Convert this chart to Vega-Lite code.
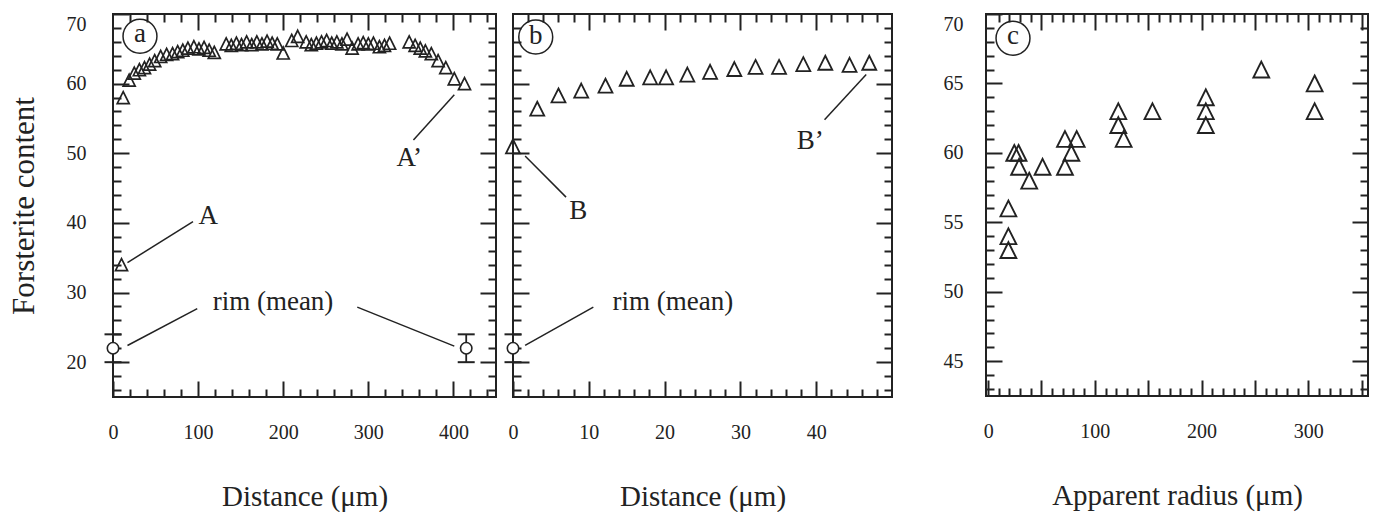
{
  "$schema": "https://vega.github.io/schema/vega-lite/v6.json",
  "padding": {"left": 7, "top": 12, "right": 5, "bottom": 0},
  "datasets": {
    "triA": [
      {"d":10,"fo":34},{"d":12,"fo":58},{"d":19,"fo":60.5},{"d":25,"fo":61.5},{"d":31,"fo":62},{"d":37,"fo":62.3},{"d":43,"fo":62.8},{"d":49,"fo":63.3},{"d":56,"fo":63.9},{"d":63,"fo":64.2},{"d":70,"fo":64.3},{"d":76,"fo":64.6},{"d":82,"fo":64.8},{"d":88,"fo":65.1},{"d":95,"fo":65.3},{"d":101,"fo":65},{"d":107,"fo":65.2},{"d":113,"fo":64.8},{"d":119,"fo":64.5},{"d":133,"fo":65.7},{"d":139,"fo":65.5},{"d":145,"fo":65.8},{"d":151,"fo":65.6},{"d":157,"fo":66},{"d":163,"fo":65.6},{"d":169,"fo":66},{"d":175,"fo":65.7},{"d":181,"fo":66.1},{"d":187,"fo":65.8},{"d":193,"fo":65.7},{"d":200,"fo":64.4},{"d":210,"fo":66.2},{"d":217,"fo":66.8},{"d":227,"fo":66},{"d":233,"fo":65.6},{"d":239,"fo":65.8},{"d":245,"fo":66},{"d":251,"fo":66.2},{"d":257,"fo":65.8},{"d":263,"fo":66},{"d":269,"fo":65.7},{"d":275,"fo":66.4},{"d":281,"fo":65.1},{"d":288,"fo":65.7},{"d":294,"fo":65.9},{"d":300,"fo":65.7},{"d":306,"fo":65.8},{"d":313,"fo":65.3},{"d":319,"fo":65.5},{"d":325,"fo":65.8},{"d":348,"fo":66},{"d":355,"fo":65.5},{"d":361,"fo":65.1},{"d":367,"fo":64.7},{"d":374,"fo":64.3},{"d":382,"fo":63.3},{"d":391,"fo":62.3},{"d":401,"fo":60.7},{"d":413,"fo":60}
    ],
    "rimA": [{"d":0,"m":22,"lo":20,"hi":24},{"d":415,"m":22,"lo":20,"hi":24}],
    "lblA": [{"x":112,"y":41,"t":"A"},{"x":348,"y":49.3,"t":"A’"},{"x":188,"y":28.6,"t":"rim (mean)"}],
    "lnA": [{"x1":17,"y1":34.3,"x2":94,"y2":40.2},{"x1":17,"y1":22.4,"x2":99,"y2":27.7},{"x1":287,"y1":27.9,"x2":401,"y2":22.3},{"x1":353,"y1":51.9,"x2":401,"y2":58.4}],
    "ringA": [{"x":31.7,"y":66.8,"t":"a"}],
    "triB": [
      {"d":0,"fo":51},{"d":3.2,"fo":56.4},{"d":6,"fo":58.3},{"d":9,"fo":59},{"d":12.2,"fo":59.7},{"d":15,"fo":60.7},{"d":18.1,"fo":60.9},{"d":20.2,"fo":60.9},{"d":23,"fo":61.3},{"d":26,"fo":61.7},{"d":29.2,"fo":62.1},{"d":32,"fo":62.4},{"d":35.1,"fo":62.4},{"d":38.3,"fo":62.8},{"d":41.2,"fo":63},{"d":44.4,"fo":62.7},{"d":47,"fo":63}
    ],
    "rimB": [{"d":0,"m":22,"lo":20,"hi":24}],
    "lblB": [{"x":8.6,"y":41.7,"t":"B"},{"x":39.2,"y":51.8,"t":"B’"},{"x":21.1,"y":28.7,"t":"rim (mean)"}],
    "lnB": [{"x1":1.6,"y1":49.6,"x2":7,"y2":43.7},{"x1":41.1,"y1":54.8,"x2":46.6,"y2":61.3},{"x1":1.6,"y1":22.4,"x2":10.6,"y2":27.9}],
    "ringB": [{"x":3.0,"y":66.7,"t":"b"}],
    "triC": [
      {"r":19,"fo":56},{"r":19,"fo":54},{"r":19,"fo":53},{"r":24.5,"fo":60},{"r":28.5,"fo":60},{"r":29,"fo":59},{"r":38.5,"fo":58},{"r":51,"fo":59},{"r":72,"fo":59},{"r":72,"fo":61},{"r":78,"fo":60},{"r":83,"fo":61},{"r":122,"fo":63},{"r":122,"fo":62},{"r":127,"fo":61},{"r":154,"fo":63},{"r":204,"fo":64},{"r":204,"fo":63},{"r":204,"fo":62},{"r":256,"fo":66},{"r":306,"fo":65},{"r":306,"fo":63}
    ],
    "ringC": [{"x":23.3,"y":68.25,"t":"c"}]
  },
  "hconcat": [
    {
      "spacing": 3,
      "hconcat": [
        {
          "width": 383, "height": 383,
          "resolve": {"axis": {"x": "independent", "y": "independent"}},
          "layer": [
            {
              "data": {"name": "triA"},
              "mark": {"type": "point", "shape": "M0,-1L1,1L-1,1Z", "filled": false, "color": "#222", "strokeWidth": 1.7, "size": 145, "opacity": 1},
              "encoding": {
                "x": {"field": "d", "type": "quantitative", "scale": {"domain": [0, 450], "nice": false, "zero": false},
                  "axis": {"orient": "bottom", "offset": -16, "tickSize": 16, "domain": false, "values": [0, 100, 200, 300, 400], "labelPadding": 25, "labelFlush": false, "labelOverlap": false, "title": "Distance (μm)", "titlePadding": 40}},
                "y": {"field": "fo", "type": "quantitative", "scale": {"domain": [15, 70], "nice": false, "zero": false},
                  "axis": {"orient": "left", "offset": -16, "tickSize": 16, "domain": false, "values": [20, 30, 40, 50, 60, 70], "labelPadding": 27, "labelFlush": true, "labelOverlap": false, "title": "Forsterite content", "titleFontSize": 31, "titlePadding": 26}}
              }
            },
            {
              "data": {"name": "rimA"},
              "mark": {"type": "rule", "color": "#222", "strokeWidth": 1.8},
              "encoding": {
                "x": {"field": "d", "type": "quantitative", "scale": {"domain": [0, 450], "nice": false, "zero": false},
                  "axis": {"orient": "bottom", "offset": -8, "tickSize": 8, "values": [20,40,60,80,120,140,160,180,220,240,260,280,320,340,360,380,420,440], "labels": false, "domain": false, "title": null}},
                "y": {"field": "lo", "type": "quantitative", "scale": {"domain": [15, 70], "nice": false, "zero": false},
                  "axis": {"orient": "left", "offset": -8, "tickSize": 8, "values": [16,18,22,24,26,28,32,34,36,38,42,44,46,48,52,54,56,58,62,64,66,68], "labels": false, "domain": false, "title": null}},
                "y2": {"field": "hi"}
              }
            },
            {
              "data": {"name": "rimA"},
              "mark": {"type": "tick", "orient": "horizontal", "size": 17, "thickness": 2, "color": "#222", "opacity": 1},
              "encoding": {
                "x": {"field": "d", "type": "quantitative", "scale": {"domain": [0, 450], "nice": false, "zero": false},
                  "axis": {"orient": "top", "offset": -16, "tickSize": 16, "domain": false, "values": [100, 200, 300, 400], "labels": false, "title": null}},
                "y": {"field": "lo", "type": "quantitative", "scale": {"domain": [15, 70], "nice": false, "zero": false},
                  "axis": {"orient": "right", "offset": -16, "tickSize": 16, "domain": false, "values": [20, 30, 40, 50, 60], "labels": false, "title": null}}
              }
            },
            {
              "data": {"name": "rimA"},
              "mark": {"type": "tick", "orient": "horizontal", "size": 17, "thickness": 2, "color": "#222", "opacity": 1},
              "encoding": {
                "x": {"field": "d", "type": "quantitative", "scale": {"domain": [0, 450], "nice": false, "zero": false},
                  "axis": {"orient": "top", "offset": -8, "tickSize": 8, "values": [20,40,60,80,120,140,160,180,220,240,260,280,320,340,360,380,420,440], "labels": false, "domain": false, "title": null}},
                "y": {"field": "hi", "type": "quantitative", "scale": {"domain": [15, 70], "nice": false, "zero": false},
                  "axis": {"orient": "right", "offset": -8, "tickSize": 8, "values": [16,18,22,24,26,28,32,34,36,38,42,44,46,48,52,54,56,58,62,64,66,68], "labels": false, "domain": false, "title": null}}
              }
            },
            {
              "data": {"name": "rimA"},
              "mark": {"type": "point", "shape": "circle", "filled": true, "fill": "white", "stroke": "#222", "strokeWidth": 1.6, "size": 130, "opacity": 1},
              "encoding": {
                "x": {"field": "d", "type": "quantitative", "scale": {"domain": [0, 450], "nice": false, "zero": false}, "axis": null},
                "y": {"field": "m", "type": "quantitative", "scale": {"domain": [15, 70], "nice": false, "zero": false}, "axis": null}
              }
            },
            {
              "data": {"name": "lnA"},
              "mark": {"type": "rule", "color": "#222", "strokeWidth": 1.5},
              "encoding": {
                "x": {"field": "x1", "type": "quantitative", "scale": {"domain": [0, 450], "nice": false, "zero": false}, "axis": null},
                "y": {"field": "y1", "type": "quantitative", "scale": {"domain": [15, 70], "nice": false, "zero": false}, "axis": null},
                "x2": {"field": "x2"},
                "y2": {"field": "y2"}
              }
            },
            {
              "data": {"name": "lblA"},
              "mark": {"type": "text", "font": "Liberation Serif", "fontSize": 27, "color": "#222"},
              "encoding": {
                "x": {"field": "x", "type": "quantitative", "scale": {"domain": [0, 450], "nice": false, "zero": false}, "axis": null},
                "y": {"field": "y", "type": "quantitative", "scale": {"domain": [15, 70], "nice": false, "zero": false}, "axis": null},
                "text": {"field": "t"}
              }
            },
            {
              "data": {"name": "ringA"},
              "mark": {"type": "point", "shape": "circle", "filled": false, "color": "#222", "strokeWidth": 1.5, "size": 1150, "opacity": 1},
              "encoding": {
                "x": {"field": "x", "type": "quantitative", "scale": {"domain": [0, 450], "nice": false, "zero": false}, "axis": null},
                "y": {"field": "y", "type": "quantitative", "scale": {"domain": [15, 70], "nice": false, "zero": false}, "axis": null}
              }
            },
            {
              "data": {"name": "ringA"},
              "mark": {"type": "text", "font": "Liberation Serif", "fontSize": 27, "color": "#222", "dy": -2},
              "encoding": {
                "x": {"field": "x", "type": "quantitative", "scale": {"domain": [0, 450], "nice": false, "zero": false}, "axis": null},
                "y": {"field": "y", "type": "quantitative", "scale": {"domain": [15, 70], "nice": false, "zero": false}, "axis": null},
                "text": {"field": "t"}
              }
            }
          ]
        },
        {
          "width": 379, "height": 383,
          "resolve": {"axis": {"x": "independent", "y": "independent"}},
          "layer": [
            {
              "data": {"name": "triB"},
              "mark": {"type": "point", "shape": "M0,-1L1,1L-1,1Z", "filled": false, "color": "#222", "strokeWidth": 1.8, "size": 195, "opacity": 1},
              "encoding": {
                "x": {"field": "d", "type": "quantitative", "scale": {"domain": [0, 50], "nice": false, "zero": false},
                  "axis": {"orient": "bottom", "offset": -16, "tickSize": 16, "domain": false, "values": [0, 10, 20, 30, 40], "labelPadding": 25, "labelFlush": false, "labelOverlap": false, "title": "Distance (μm)", "titlePadding": 40}},
                "y": {"field": "fo", "type": "quantitative", "scale": {"domain": [15, 70], "nice": false, "zero": false},
                  "axis": {"orient": "left", "offset": -16, "tickSize": 16, "domain": false, "values": [20, 30, 40, 50, 60], "labels": false, "title": null}}
              }
            },
            {
              "data": {"name": "rimB"},
              "mark": {"type": "rule", "color": "#222", "strokeWidth": 1.8},
              "encoding": {
                "x": {"field": "d", "type": "quantitative", "scale": {"domain": [0, 50], "nice": false, "zero": false},
                  "axis": {"orient": "bottom", "offset": -8, "tickSize": 8, "values": [2,4,6,8,12,14,16,18,22,24,26,28,32,34,36,38,42,44,46,48], "labels": false, "domain": false, "title": null}},
                "y": {"field": "lo", "type": "quantitative", "scale": {"domain": [15, 70], "nice": false, "zero": false},
                  "axis": {"orient": "left", "offset": -8, "tickSize": 8, "values": [16,18,22,24,26,28,32,34,36,38,42,44,46,48,52,54,56,58,62,64,66,68], "labels": false, "domain": false, "title": null}},
                "y2": {"field": "hi"}
              }
            },
            {
              "data": {"name": "rimB"},
              "mark": {"type": "tick", "orient": "horizontal", "size": 17, "thickness": 2, "color": "#222", "opacity": 1},
              "encoding": {
                "x": {"field": "d", "type": "quantitative", "scale": {"domain": [0, 50], "nice": false, "zero": false},
                  "axis": {"orient": "top", "offset": -16, "tickSize": 16, "domain": false, "values": [10, 20, 30, 40], "labels": false, "title": null}},
                "y": {"field": "lo", "type": "quantitative", "scale": {"domain": [15, 70], "nice": false, "zero": false},
                  "axis": {"orient": "right", "offset": -16, "tickSize": 16, "domain": false, "values": [20, 30, 40, 50, 60], "labels": false, "title": null}}
              }
            },
            {
              "data": {"name": "rimB"},
              "mark": {"type": "tick", "orient": "horizontal", "size": 17, "thickness": 2, "color": "#222", "opacity": 1},
              "encoding": {
                "x": {"field": "d", "type": "quantitative", "scale": {"domain": [0, 50], "nice": false, "zero": false},
                  "axis": {"orient": "top", "offset": -8, "tickSize": 8, "values": [2,4,6,8,12,14,16,18,22,24,26,28,32,34,36,38,42,44,46,48], "labels": false, "domain": false, "title": null}},
                "y": {"field": "hi", "type": "quantitative", "scale": {"domain": [15, 70], "nice": false, "zero": false},
                  "axis": {"orient": "right", "offset": -8, "tickSize": 8, "values": [16,18,22,24,26,28,32,34,36,38,42,44,46,48,52,54,56,58,62,64,66,68], "labels": false, "domain": false, "title": null}}
              }
            },
            {
              "data": {"name": "rimB"},
              "mark": {"type": "point", "shape": "circle", "filled": true, "fill": "white", "stroke": "#222", "strokeWidth": 1.6, "size": 130, "opacity": 1},
              "encoding": {
                "x": {"field": "d", "type": "quantitative", "scale": {"domain": [0, 50], "nice": false, "zero": false}, "axis": null},
                "y": {"field": "m", "type": "quantitative", "scale": {"domain": [15, 70], "nice": false, "zero": false}, "axis": null}
              }
            },
            {
              "data": {"name": "lnB"},
              "mark": {"type": "rule", "color": "#222", "strokeWidth": 1.5},
              "encoding": {
                "x": {"field": "x1", "type": "quantitative", "scale": {"domain": [0, 50], "nice": false, "zero": false}, "axis": null},
                "y": {"field": "y1", "type": "quantitative", "scale": {"domain": [15, 70], "nice": false, "zero": false}, "axis": null},
                "x2": {"field": "x2"},
                "y2": {"field": "y2"}
              }
            },
            {
              "data": {"name": "lblB"},
              "mark": {"type": "text", "font": "Liberation Serif", "fontSize": 27, "color": "#222"},
              "encoding": {
                "x": {"field": "x", "type": "quantitative", "scale": {"domain": [0, 50], "nice": false, "zero": false}, "axis": null},
                "y": {"field": "y", "type": "quantitative", "scale": {"domain": [15, 70], "nice": false, "zero": false}, "axis": null},
                "text": {"field": "t"}
              }
            },
            {
              "data": {"name": "ringB"},
              "mark": {"type": "point", "shape": "circle", "filled": false, "color": "#222", "strokeWidth": 1.5, "size": 1150, "opacity": 1},
              "encoding": {
                "x": {"field": "x", "type": "quantitative", "scale": {"domain": [0, 50], "nice": false, "zero": false}, "axis": null},
                "y": {"field": "y", "type": "quantitative", "scale": {"domain": [15, 70], "nice": false, "zero": false}, "axis": null}
              }
            },
            {
              "data": {"name": "ringB"},
              "mark": {"type": "text", "font": "Liberation Serif", "fontSize": 27, "color": "#222", "dy": -1},
              "encoding": {
                "x": {"field": "x", "type": "quantitative", "scale": {"domain": [0, 50], "nice": false, "zero": false}, "axis": null},
                "y": {"field": "y", "type": "quantitative", "scale": {"domain": [15, 70], "nice": false, "zero": false}, "axis": null},
                "text": {"field": "t"}
              }
            }
          ]
        }
      ]
    },
    {
      "width": 382, "height": 382,
      "resolve": {"axis": {"x": "independent", "y": "independent"}},
      "layer": [
        {
          "data": {"name": "triC"},
          "transform": [{"filter": "datum.r < 100"}],
          "mark": {"type": "point", "shape": "M0,-1L1,1L-1,1Z", "filled": false, "color": "#222", "strokeWidth": 1.9, "size": 250, "opacity": 1},
          "encoding": {
            "x": {"field": "r", "type": "quantitative", "scale": {"domain": [-2, 356], "nice": false, "zero": false},
              "axis": {"orient": "bottom", "offset": -16, "tickSize": 16, "domain": false, "values": [0, 50, 100, 150, 200, 250, 300, 350], "labelExpr": "datum.value % 100 === 0 ? datum.label : ''", "labelPadding": 25, "labelFlush": false, "labelOverlap": false, "title": "Apparent radius (μm)", "titlePadding": 40}},
            "y": {"field": "fo", "type": "quantitative", "scale": {"domain": [42.5, 70], "nice": false, "zero": false},
              "axis": {"orient": "left", "offset": -16, "tickSize": 16, "domain": false, "values": [45, 50, 55, 60, 65, 70], "labelPadding": 23, "labelFlush": true, "labelOverlap": false, "title": null}}
          }
        },
        {
          "data": {"name": "triC"},
          "transform": [{"filter": "datum.r >= 100"}],
          "mark": {"type": "point", "shape": "M0,-1L1,1L-1,1Z", "filled": false, "color": "#222", "strokeWidth": 1.9, "size": 250, "opacity": 1},
          "encoding": {
            "x": {"field": "r", "type": "quantitative", "scale": {"domain": [-2, 356], "nice": false, "zero": false},
              "axis": {"orient": "bottom", "offset": -8, "tickSize": 8, "values": [10,20,30,40,60,70,80,90,110,120,130,140,160,170,180,190,210,220,230,240,260,270,280,290,310,320,330,340], "labels": false, "domain": false, "title": null}},
            "y": {"field": "fo", "type": "quantitative", "scale": {"domain": [42.5, 70], "nice": false, "zero": false},
              "axis": {"orient": "left", "offset": -8, "tickSize": 8, "values": [43,44,46,47,48,49,51,52,53,54,56,57,58,59,61,62,63,64,66,67,68,69], "labels": false, "domain": false, "title": null}}
          }
        },
        {
          "data": {"name": "ringC"},
          "mark": {"type": "point", "shape": "circle", "filled": false, "color": "#222", "strokeWidth": 1.5, "size": 1150, "opacity": 1},
          "encoding": {
            "x": {"field": "x", "type": "quantitative", "scale": {"domain": [-2, 356], "nice": false, "zero": false},
              "axis": {"orient": "top", "offset": -16, "tickSize": 16, "domain": false, "values": [50, 100, 150, 200, 250, 300, 350], "labels": false, "title": null}},
            "y": {"field": "y", "type": "quantitative", "scale": {"domain": [42.5, 70], "nice": false, "zero": false},
              "axis": {"orient": "right", "offset": -16, "tickSize": 16, "domain": false, "values": [45, 50, 55, 60, 65], "labels": false, "title": null}}
          }
        },
        {
          "data": {"name": "ringC"},
          "mark": {"type": "text", "font": "Liberation Serif", "fontSize": 27, "color": "#222", "dy": -2},
          "encoding": {
            "x": {"field": "x", "type": "quantitative", "scale": {"domain": [-2, 356], "nice": false, "zero": false},
              "axis": {"orient": "top", "offset": -8, "tickSize": 8, "values": [10,20,30,40,60,70,80,90,110,120,130,140,160,170,180,190,210,220,230,240,260,270,280,290,310,320,330,340], "labels": false, "domain": false, "title": null}},
            "y": {"field": "y", "type": "quantitative", "scale": {"domain": [42.5, 70], "nice": false, "zero": false},
              "axis": {"orient": "right", "offset": -8, "tickSize": 8, "values": [43,44,46,47,48,49,51,52,53,54,56,57,58,59,61,62,63,64,66,67,68,69], "labels": false, "domain": false, "title": null}},
            "text": {"field": "t"}
          }
        }
      ]
    }
  ],
  "spacing": 48,
  "config": {
    "view": {"stroke": "#222", "strokeWidth": 2},
    "font": "Liberation Serif",
    "axis": {
      "grid": false,
      "domainColor": "#222",
      "domainWidth": 2,
      "tickColor": "#222",
      "tickWidth": 2,
      "labelFont": "Liberation Serif",
      "labelFontSize": 20,
      "labelColor": "#222",
      "labelAngle": 0,
      "titleFont": "Liberation Serif",
      "titleFontSize": 29,
      "titleFontWeight": "normal",
      "titleColor": "#222"
    }
  }
}
